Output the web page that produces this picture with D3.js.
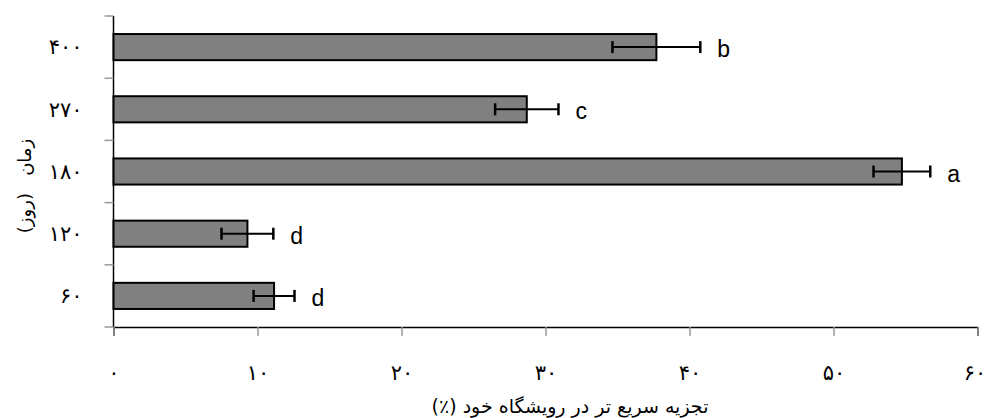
<!DOCTYPE html>
<html>
<head>
<meta charset="utf-8">
<script src="https://cdn.jsdelivr.net/npm/d3@7"></script>
<style>
  body { margin: 0; background: #fff; }
  svg { display: block; }
</style>
</head>
<body>
<svg id="chart" width="986" height="418"></svg>
<script>
// data
const days = ["۴۰۰", "۲۷۰", "۱۸۰", "۱۲۰", "۶۰"];
const values = [37.7, 28.7, 54.75, 9.3, 11.15];
const errors = [3.05, 2.2, 1.97, 1.8, 1.42];
const letters = ["b", "c", "a", "d", "d"];
const xTicks = [0, 10, 20, 30, 40, 50, 60];
const xTickLabels = ["۰", "۱۰", "۲۰", "۳۰", "۴۰", "۵۰", "۶۰"];

const margin = { top: 16, right: 8, bottom: 91, left: 113.5 },
  w = 986 - margin.left - margin.right,
  h = 418 - margin.top - margin.bottom;

const svg = d3.select("#chart");
const g = svg.append("g").attr("transform", `translate(${margin.left}, ${margin.top})`);

const xScale = d3.scaleLinear().domain([0, 60]).range([0, w - 0.5]);

const yScale = d3.scaleBand()
  .domain(days)
  .range([0, h])
  .paddingInner(0.58)
  .paddingOuter(0.29);

const persianFont = "'DejaVu Sans', sans-serif";

// x axis
const xAxis = g.append("g")
  .attr("transform", `translate(0, ${h})`)
  .call(d3.axisBottom(xScale).tickValues(xTicks).tickSize(9).tickFormat((d, i) => xTickLabels[i]));
xAxis.select(".domain").attr("stroke", "#000").attr("stroke-width", 1.5);
xAxis.selectAll(".tick line").attr("stroke", "#999").attr("stroke-width", 1.5);
xAxis.selectAll(".tick text")
  .attr("y", 38)
  .attr("font-family", persianFont)
  .attr("font-size", 21)
  .attr("fill", "#000");
// keep the last label inside the page
xAxis.selectAll(".tick:last-of-type text").attr("dx", -3);

// y axis: line plus ticks between the categories
g.append("line")
  .attr("x1", 0).attr("x2", 0)
  .attr("y1", 0).attr("y2", h)
  .attr("stroke", "#000").attr("stroke-width", 1.5);

const step = yScale.step();
const bounds = days.map(d => yScale(d) - step * yScale.paddingInner() / 2).concat([h]);
g.selectAll(".ytick")
  .data(bounds)
  .join("line")
  .attr("class", "ytick")
  .attr("x1", -9).attr("x2", 0)
  .attr("y1", d => d).attr("y2", d => d)
  .attr("stroke", "#999").attr("stroke-width", 1.5);

g.selectAll(".ylab")
  .data(days)
  .join("text")
  .attr("class", "ylab")
  .attr("x", -31)
  .attr("y", d => yScale(d) + yScale.bandwidth() / 2)
  .attr("dy", "0.35em")
  .attr("text-anchor", "end")
  .attr("font-family", persianFont)
  .attr("font-size", 21)
  .text(d => d);

// bars
g.selectAll(".bar")
  .data(days)
  .join("rect")
  .attr("class", "bar")
  .attr("x", 0)
  .attr("y", d => yScale(d))
  .attr("width", (d, i) => xScale(values[i]))
  .attr("height", yScale.bandwidth())
  .attr("fill", "#808080")
  .attr("stroke", "#000")
  .attr("stroke-width", 2);

// error bars
const eb = g.selectAll(".err")
  .data(days)
  .join("g")
  .attr("class", "err")
  .attr("transform", d => `translate(0, ${yScale(d) + yScale.bandwidth() / 2})`);

eb.append("line")
  .attr("x1", (d, i) => xScale(values[i] - errors[i]))
  .attr("x2", (d, i) => xScale(values[i] + errors[i]))
  .attr("stroke", "#000").attr("stroke-width", 2);

eb.append("line")
  .attr("x1", (d, i) => xScale(values[i] - errors[i]))
  .attr("x2", (d, i) => xScale(values[i] - errors[i]))
  .attr("y1", -6).attr("y2", 6)
  .attr("stroke", "#000").attr("stroke-width", 2.5);

eb.append("line")
  .attr("x1", (d, i) => xScale(values[i] + errors[i]))
  .attr("x2", (d, i) => xScale(values[i] + errors[i]))
  .attr("y1", -6).attr("y2", 6)
  .attr("stroke", "#000").attr("stroke-width", 2.5);

eb.append("text")
  .attr("x", (d, i) => xScale(values[i] + errors[i]) + 17)
  .attr("y", 10)
  .attr("font-family", "'Liberation Sans', Arial, sans-serif")
  .attr("font-size", 23)
  .text((d, i) => letters[i]);

// axis titles
svg.append("text")
  .attr("x", 570)
  .attr("y", 413)
  .attr("text-anchor", "middle")
  .attr("direction", "rtl")
  .style("direction", "rtl")
  .style("unicode-bidi", "embed")
  .attr("font-family", persianFont)
  .attr("font-size", 19)
  .text("تجزیه سریع تر در رویشگاه خود (٪)");

svg.append("text")
  .attr("transform", "translate(31, 186) rotate(-90)")
  .attr("text-anchor", "middle")
  .attr("direction", "rtl")
  .style("direction", "rtl")
  .style("unicode-bidi", "embed")
  .attr("font-family", persianFont)
  .attr("font-size", 18)
  .attr("xml:space", "preserve")
  .text("زمان   (روز)");
</script>
</body>
</html>
